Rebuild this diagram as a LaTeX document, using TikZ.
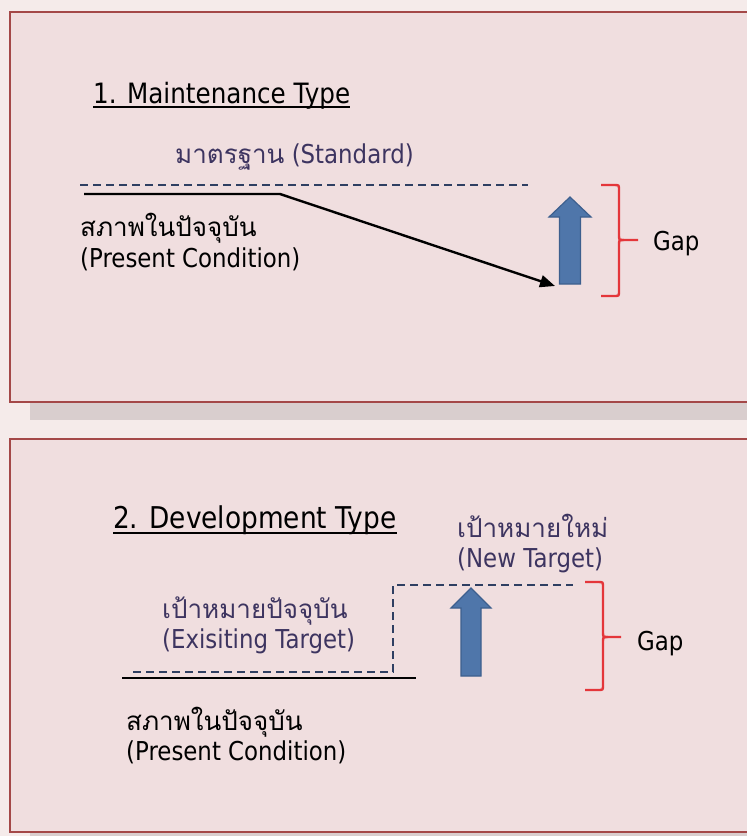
\documentclass[tikz,border=0pt]{standalone}
\usepackage{fontspec}
\setmainfont{DejaVu Sans}[FakeStretch=0.88]
\newfontfamily\thai[Script=Thai]{Loma}
\usetikzlibrary{arrows.meta}
\definecolor{bgout}{HTML}{F5EBEA}
\definecolor{panelfill}{HTML}{F0DEDF}
\definecolor{panelborder}{HTML}{A44848}
\definecolor{shadowgrey}{HTML}{D9CECE}
\definecolor{txtpurple}{HTML}{3D3460}
\definecolor{dashblue}{HTML}{2F3F62}
\definecolor{arrowfill}{HTML}{4F76AA}
\definecolor{arrowedge}{HTML}{3D5F8E}
\definecolor{bracered}{HTML}{E4363A}
\begin{document}
\begin{tikzpicture}[x=1pt,y=-1pt,
  body/.style={inner sep=0pt,anchor=base west,font=\fontsize{26}{31}\selectfont},
  purp/.style={body,text=txtpurple},
  titlefont/.style={inner sep=0pt,anchor=base west},
  uline/.style={draw=black,line width=1.8pt},
  dashline/.style={draw=dashblue,line width=2.4pt,dash pattern=on 8pt off 5pt},
  solidline/.style={draw=black,line width=2.4pt},
  blockarrow/.style={fill=arrowfill,draw=arrowedge,line width=1.2pt},
  gapbrace/.style={draw=bracered,line width=2.4pt},
  panel/.style={fill=panelfill,draw=panelborder,line width=2.8pt},
  shadowbox/.style={fill=shadowgrey}]
\clip (0,0) rectangle (747,836);
\fill[bgout] (0,0) rectangle (747,836);
% panels
\fill[shadowbox] (30,402) rectangle (760,420);
\draw[panel] (10,12) rectangle (765,402);
\fill[shadowbox] (30,832) rectangle (760,845);
\draw[panel] (10,439) rectangle (765,832);

% ---------- panel 1 ----------
\node[titlefont,font=\fontsize{28}{31}\selectfont] (title1) at (93,103) {1. Maintenance Type};
\draw[uline] ([yshift=-4pt]title1.base west) -- ([yshift=-4pt]title1.base east);
\node[purp] (std) at (175,163) {{\thai มาตรฐาน} (Standard)};
\node[body] (pcthai1) at (80,236) {\thai สภาพในปัจจุบัน};
\node[body] (pclat1) at (80,267) {(Present Condition)};
\node[body] (gap1) at (653,250) {Gap};

\coordinate (d1a) at (80,185);
\coordinate (d1b) at (528,185);
\draw[dashline] (d1a) -- (d1b);

\coordinate (s1a) at (84,194);
\coordinate (s1b) at (280,194);
\coordinate (s1c) at (555,286);
\draw[solidline,-{Triangle[length=15pt,width=12pt]}] (s1a) -- (s1b) -- (s1c);

\draw[blockarrow] (570,197) -- (591,217) -- (580.5,217) -- (580.5,284) -- (559.5,284) -- (559.5,217) -- (549,217) -- cycle;

\draw[gapbrace] (601,185) -- (614,185) .. controls (619,185) .. (619,190) -- (619,235) .. controls (619,240) .. (624,240) -- (638,240);
\draw[gapbrace] (624,240) .. controls (619,240) .. (619,245) -- (619,291) .. controls (619,296) .. (614,296) -- (601,296);

% ---------- panel 2 ----------
\node[titlefont,font=\fontsize{30}{33}\selectfont] (title2) at (113,528) {2. Development Type};
\draw[uline] ([yshift=-5pt]title2.base west) -- ([yshift=-5pt]title2.base east);
\node[purp] (ntthai) at (457,537) {\thai เป้าหมายใหม่};
\node[purp] (ntlat) at (457,567) {(New Target)};
\node[purp] (etthai) at (162,618) {\thai เป้าหมายปัจจุบัน};
\node[purp] (etlat) at (162,648) {(Exisiting Target)};
\node[body] (pcthai2) at (126,730) {\thai สภาพในปัจจุบัน};
\node[body] (pclat2) at (126,760) {(Present Condition)};
\node[body] (gap2) at (637,650) {Gap};

\coordinate (d2a) at (133,672);
\coordinate (d2b) at (393,672);
\coordinate (d2c) at (393,585);
\coordinate (d2d) at (573,585);
\draw[dashline] (d2a) -- (d2b) -- (d2c) -- (d2d);

\coordinate (s2a) at (122,678);
\coordinate (s2b) at (416,678);
\draw[solidline] (s2a) -- (s2b);

\draw[blockarrow] (471,588) -- (491,608) -- (481,608) -- (481,676) -- (461,676) -- (461,608) -- (451,608) -- cycle;

\draw[gapbrace] (585,582) -- (598,582) .. controls (603,582) .. (603,587) -- (603,632) .. controls (603,637) .. (608,637) -- (621,637);
\draw[gapbrace] (608,637) .. controls (603,637) .. (603,642) -- (603,685) .. controls (603,690) .. (598,690) -- (585,690);
\end{tikzpicture}
\end{document}
